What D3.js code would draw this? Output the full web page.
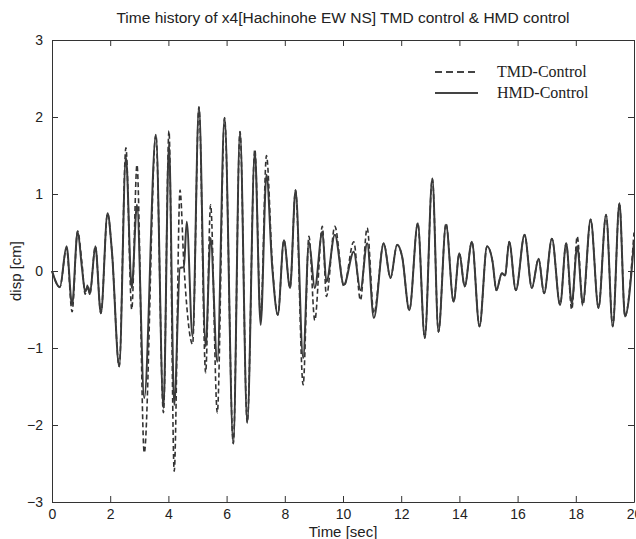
<!DOCTYPE html>
<html lang="en">
  <head>
    <meta charset="utf-8"/>
    <script src="https://d3js.org/d3.v7.min.js"></script>
    <title>Time history of x4</title>
    <style>
      body { margin: 0; background: #fff; }
      .axis text { font-family: "Liberation Sans", Arial, sans-serif; font-size: 14px; fill: #222; }
      .axis path, .axis line { stroke: #333; }
    </style>
  </head>
  <body>
    <svg id="svg_main"></svg>

    <script>
      const width = 636;
      const height = 539;
      const margin = {left: 52, right: 2, top: 40, bottom: 37};

      // peaks / troughs
      let timeSec = [0.00, 0.27, 0.50, 0.69, 0.88, 1.03, 1.14, 1.23, 1.30, 1.49, 1.68, 1.91, 2.06, 2.31, 2.54, 2.74, 2.92, 3.17,
                     3.57, 3.83, 4.02, 4.20, 4.40, 4.53, 4.63, 4.83, 5.05, 5.28, 5.45, 5.68, 5.93, 6.23, 6.46, 6.71, 6.97, 7.17,
                     7.37, 7.57, 7.76, 7.97, 8.18, 8.37, 8.63, 8.83, 9.03, 9.29, 9.43, 9.72, 10.03, 10.37, 10.60, 10.83, 11.06,
                     11.40, 11.63, 11.86, 12.03, 12.28, 12.57, 12.81, 13.07, 13.28, 13.54, 13.80, 14.00, 14.18, 14.43, 14.69,
                     14.95, 15.14, 15.27, 15.46, 15.57, 15.71, 15.94, 16.24, 16.49, 16.72, 16.91, 17.18, 17.46, 17.67, 17.86,
                     18.05, 18.24, 18.51, 18.78, 19.04, 19.27, 19.50, 19.69, 20.00];

      let hmdDisp = [0.00, -0.21, 0.32, -0.44, 0.51, 0.04, -0.27, -0.20, -0.30, 0.32, -0.55, 0.75, 0.25, -1.24, 1.48, -0.22, 0.86, -1.65,
                     1.77, -1.78, 1.65, -1.74, 0.04, 0.05, 0.64, -0.85, 2.13, -0.98, 0.43, -1.18, 1.99, -2.24, 1.81, -1.97, 1.55, -0.70,
                     1.25, 0.04, -0.57, 0.40, -0.22, 1.05, -1.13, 0.38, -0.22, 0.51, -0.14, 0.47, -0.18, 0.25, -0.25, 0.36, -0.61,
                     0.36, -0.09, 0.34, 0.19, -0.51, 0.62, -0.87, 1.20, -0.79, 0.60, -0.40, 0.23, -0.20, 0.38, -0.72,
                     0.32, 0.12, -0.25, -0.03, -0.06, 0.38, -0.25, 0.47, -0.22, 0.16, -0.29, 0.42, -0.44, 0.36, -0.42,
                     0.32, -0.42, 0.67, -0.48, 0.73, -0.72, 0.88, -0.59, 0.38];

      let tmdDisp = [0.00, -0.21, 0.30, -0.53, 0.52, 0.10, -0.30, -0.18, -0.30, 0.32, -0.55, 0.75, 0.25, -1.24, 1.60, -0.50, 1.38, -2.36,
                     1.77, -1.84, 1.82, -2.60, 1.05, 0.10, -0.45, -0.95, 2.13, -1.32, 0.86, -1.84, 1.99, -2.24, 1.81, -1.97, 1.58, -0.62,
                     1.50, 0.10, -0.57, 0.40, -0.22, 1.05, -1.48, 0.45, -0.64, 0.58, -0.33, 0.58, -0.20, 0.38, -0.38, 0.56, -0.55,
                     0.36, -0.09, 0.34, 0.19, -0.51, 0.62, -0.87, 1.20, -0.79, 0.62, -0.40, 0.23, -0.20, 0.38, -0.72,
                     0.32, 0.12, -0.25, -0.03, -0.06, 0.38, -0.25, 0.47, -0.22, 0.16, -0.29, 0.42, -0.44, 0.36, -0.50,
                     0.45, -0.45, 0.67, -0.48, 0.73, -0.72, 0.88, -0.59, 0.50];

      let xTicks = d3.range(0, 21, 2);
      let yTicks = [-3, -2, -1, 0, 1, 2, 3];

      let svg = d3.select("#svg_main")
          .attr("width", width)
          .attr("height", height);

      let xScale = d3.scaleLinear()
          .domain([0, 20])
          .range([margin.left, width - margin.right]);

      let yScale = d3.scaleLinear()
          .domain([-3, 3])
          .range([height - margin.bottom, margin.top]);

      // title
      svg.append("text")
          .attr("x", 343)
          .attr("y", 23)
          .attr("text-anchor", "middle")
          .style("font-family", "Liberation Sans, Arial, sans-serif")
          .style("font-size", "15.5px")
          .style("fill", "#222")
          .text("Time history of x4[Hachinohe EW NS] TMD control & HMD control");

      // bottom axis, ticks pointing in
      svg.append("g")
          .attr("class", "axis")
          .attr("transform", "translate(0," + yScale(-3) + ")")
          .call(d3.axisBottom(xScale).tickValues(xTicks).tickSizeInner(-6).tickSizeOuter(0).tickPadding(7).tickFormat(d3.format("d")));

      svg.append("g")
          .attr("class", "axis")
          .attr("transform", "translate(0," + yScale(3) + ")")
          .call(d3.axisTop(xScale).tickValues(xTicks).tickSizeInner(-6).tickSizeOuter(0).tickFormat(""));

      svg.append("g")
          .attr("class", "axis")
          .attr("transform", "translate(" + xScale(0) + ",0)")
          .call(d3.axisLeft(yScale).tickValues(yTicks).tickSizeInner(-6).tickSizeOuter(0).tickPadding(9).tickFormat(d3.format("d")));

      svg.append("g")
          .attr("class", "axis")
          .attr("transform", "translate(" + xScale(20) + ",0)")
          .call(d3.axisRight(yScale).tickValues(yTicks).tickSizeInner(-6).tickSizeOuter(0).tickFormat(""));

      // axis labels
      svg.append("text")
          .attr("x", 343)
          .attr("y", 537)
          .attr("text-anchor", "middle")
          .style("font-family", "Liberation Sans, Arial, sans-serif")
          .style("font-size", "15px")
          .style("fill", "#222")
          .text("Time [sec]");

      svg.append("text")
          .attr("transform", "translate(21," + yScale(0) + ") rotate(-90)")
          .attr("text-anchor", "middle")
          .style("font-family", "Liberation Sans, Arial, sans-serif")
          .style("font-size", "15px")
          .style("fill", "#222")
          .text("disp [cm]");

      let line = d3.line()
          .x(function(d) { return xScale(d[0]); })
          .y(function(d) { return yScale(d[1]); })
          .curve(d3.curveMonotoneX);

      let tmdData = timeSec.map(function(t, i) { return [t, tmdDisp[i]]; });
      let hmdData = timeSec.map(function(t, i) { return [t, hmdDisp[i]]; });

      svg.append("path")
          .datum(tmdData)
          .attr("fill", "none")
          .attr("stroke", "#333")
          .attr("stroke-width", 1.6)
          .attr("stroke-dasharray", "5,3")
          .attr("d", line);

      svg.append("path")
          .datum(hmdData)
          .attr("fill", "none")
          .attr("stroke", "#3a3a3a")
          .attr("stroke-width", 2)
          .attr("stroke-linejoin", "round")
          .attr("d", line);

      // legend
      let legend = [{name: "TMD-Control", dash: "7,4", y: 72},
                    {name: "HMD-Control", dash: null, y: 93}];

      legend.forEach(function(d) {
        svg.append("line")
            .attr("x1", 435).attr("x2", 478)
            .attr("y1", d.y).attr("y2", d.y)
            .attr("stroke", "#444")
            .attr("stroke-width", 2)
            .attr("stroke-dasharray", d.dash);
        svg.append("text")
            .attr("x", 497)
            .attr("y", d.y + 5)
            .style("font-family", "Liberation Serif, Times New Roman, serif")
            .style("font-size", "16px")
            .style("fill", "#222")
            .text(d.name);
      });
    </script>
  </body>
</html>
